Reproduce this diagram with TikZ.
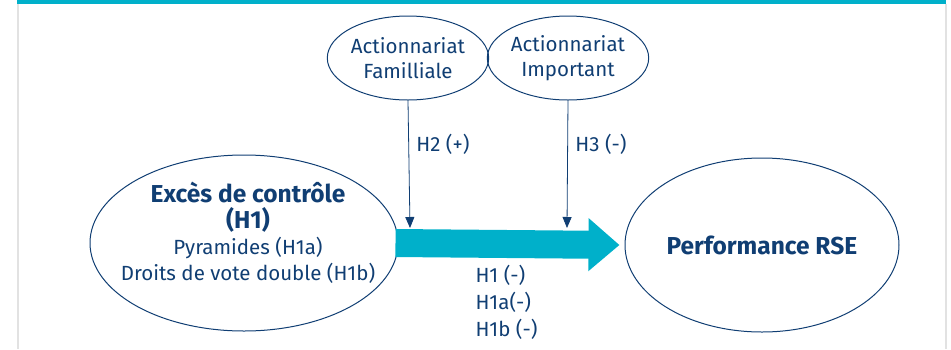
\documentclass[tikz,border=0pt]{standalone}
\usepackage{fontspec}
\setmainfont{Fira Sans}
\usepackage{tikz}
\usetikzlibrary{arrows.meta,shapes.geometric}
\definecolor{rsenavy}{RGB}{16,62,115}
\definecolor{rseteal}{RGB}{0,176,202}
\definecolor{rsegris}{RGB}{226,226,226}
\newcommand{\gras}[1]{{\fontsize{24.5}{26}\selectfont\bfseries #1}}

\begin{document}
\begin{tikzpicture}[line cap=round,line join=round,>={Triangle[length=11pt,width=9pt]},x=1pt,y=-1pt,color=rsenavy,font=\fontsize{20.5}{26}\selectfont]
\tikzset{bulle/.style={ellipse,draw,line width=1pt,inner sep=0pt,align=center}}
\useasboundingbox (0,0) rectangle (951,349);
\fill[color=rseteal] (17,0) rectangle (946,4);
\fill[color=rsegris] (17,4) rectangle (19,349);
\fill[color=rsegris] (945,4) rectangle (947,349);
\node[bulle,minimum width=154pt,minimum height=84pt,font=\fontsize{20.5}{25}\selectfont] (famille) at (408,58) {Actionnariat\\Familliale};
\node[bulle,minimum width=154pt,minimum height=84pt,font=\fontsize{20.5}{25}\selectfont] (important) at (568,58) {Actionnariat\\Important};
\node[bulle,minimum width=308pt,minimum height=176pt] (exces) at (244,243) {};
\node[align=center] (excestexte) at ([xshift=4pt,yshift=10pt]exces.center) {\gras{Excès de contrôle}\\\gras{(H1)}\\Pyramides (H1a)\\Droits de vote double (H1b)};
\node[bulle,minimum width=274pt,minimum height=174pt] (perf) at (762,245) {\gras{Performance RSE}};
\draw[line cap=butt,line width=28pt,color=rseteal,-{Triangle[length=31pt,width=51pt]}] ([xshift=-3pt]exces.east) -- ([xshift=-5pt]perf.west);
\coordinate (h2) at (410,228);
\coordinate (h3) at (567,228);
\draw[->,line width=0.8pt] (famille.south) -- (h2) node[pos=0.34,right=4pt] {H2 (+)};
\draw[->,line width=0.8pt] (important.south) -- (h3) node[pos=0.34,right=4pt] {H3 (-)};
\node[align=left,anchor=north west,font=\fontsize{20.5}{27}\selectfont] (effets) at (472,262) {H1 (-)\\H1a(-)\\H1b (-)};
\end{tikzpicture}
\end{document}
